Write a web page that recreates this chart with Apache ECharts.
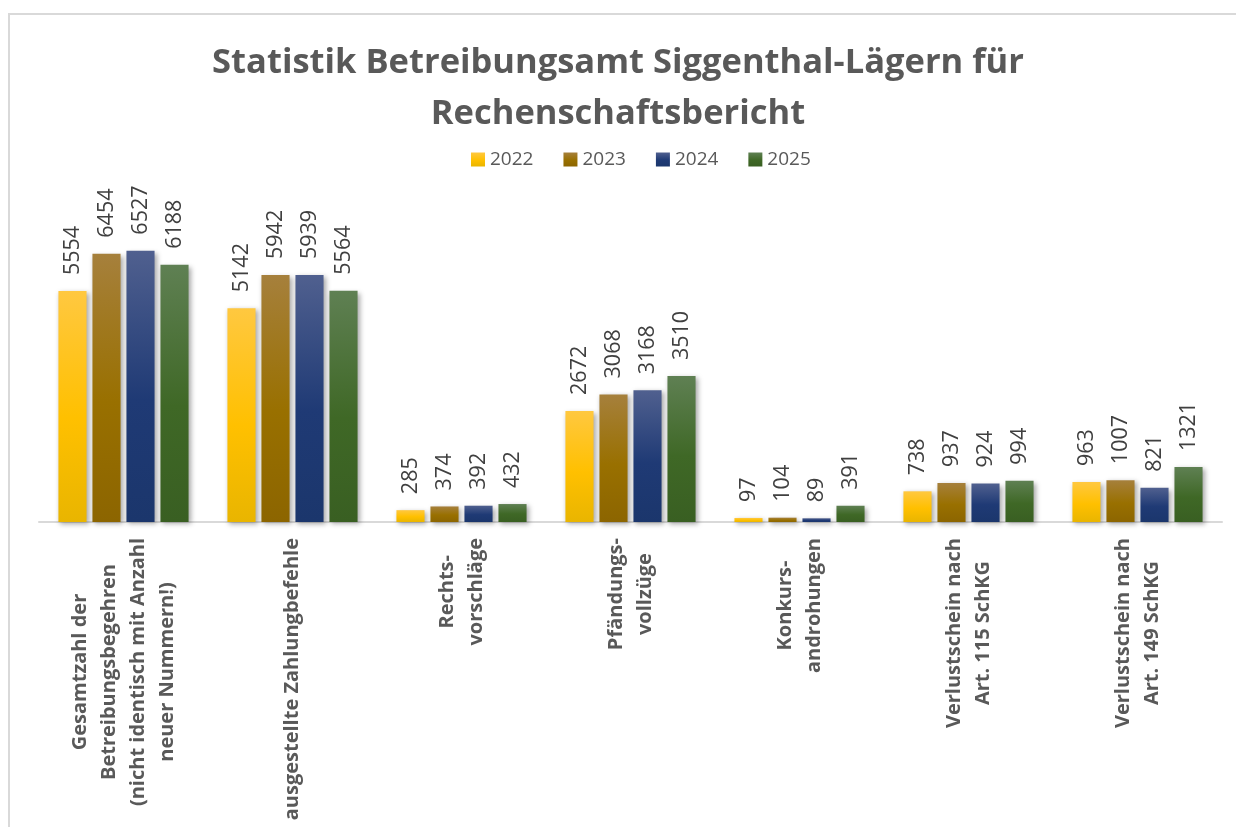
<!DOCTYPE html>
<html>
<head>
<meta charset="utf-8">
<script src="https://cdn.jsdelivr.net/npm/echarts@6/dist/echarts.min.js"></script>
<style>
  html, body { margin: 0; padding: 0; background: #fff; }
  #chart { width: 1236px; height: 827px; }
</style>
</head>
<body>
<div id="chart"></div>
<script>
// Kategorien (Zeilenumbrüche wie im Original)
const categories = [
  'Gesamtzahl der\nBetreibungsbegehren\n(nicht identisch mit Anzahl\nneuer Nummern!)',
  'ausgestellte Zahlungbefehle',
  'Rechts-\nvorschläge',
  'Pfändungs-\nvollzüge',
  'Konkurs-\nandrohungen',
  'Verlustschein nach\nArt. 115 SchKG',
  'Verlustschein nach\nArt. 149 SchKG'
]

const years = ['2022', '2023', '2024', '2025']

const values2022 = [5554, 5142, 285, 2672, 97, 738, 963]
const values2023 = [6454, 5942, 374, 3068, 104, 937, 1007]
const values2024 = [6527, 5939, 392, 3168, 89, 924, 821]
const values2025 = [6188, 5564, 432, 3510, 391, 994, 1321]

const seriesValues = [values2022, values2023, values2024, values2025]

// Verlauf oben hell -> Mitte kräftig -> unten etwas dunkler
const gradients = [
  ['#FFC840', '#FFC000', '#E9B500'],
  ['#A6803C', '#997000', '#8C6500'],
  ['#50608F', '#1F3A75', '#1B366C'],
  ['#5F8053', '#3F6826', '#395F22']
]

const makeGradient = (c) => new echarts.graphic.LinearGradient(0, 0, 0, 1, [
  { offset: 0, color: c[0] },
  { offset: 0.55, color: c[1] },
  { offset: 1, color: c[2] }
])

const FONT = 'Open Sans'

const chart = echarts.init(document.getElementById('chart'))

const option = {
  backgroundColor: '#ffffff',
  animation: false,
  title: {
    text: 'Statistik Betreibungsamt Siggenthal-Lägern für\nRechenschaftsbericht',
    left: 'center',
    top: 33,
    textStyle: {
      fontFamily: FONT,
      fontWeight: 'bold',
      fontSize: 34.5,
      lineHeight: 51,
      color: '#595959'
    }
  },
  legend: {
    data: years,
    top: 145,
    left: 466,
    itemWidth: 14,
    itemHeight: 14,
    itemGap: 30,
    icon: 'rect',
    textStyle: { fontFamily: FONT, fontSize: 19, color: '#595959' }
  },
  graphic: [{
    type: 'polyline',
    shape: { points: [[9, 827], [9, 14], [1236, 14]] },
    style: { stroke: '#D9D9D9', lineWidth: 2, fill: null }
  }],
  grid: {
    left: 39,
    right: 14,
    top: 231,
    bottom: 305,
    outerBoundsMode: 'none'
  },
  xAxis: {
    type: 'category',
    data: categories,
    axisTick: { show: false },
    axisLine: { lineStyle: { color: '#D9D9D9', width: 2 } },
    axisLabel: {
      interval: 0,
      rotate: 90,
      margin: 16,
      formatter: (v) => v.split('\n').map(l => '{c|' + l + '}').join('\n'),
      rich: {
        c: {
          align: 'center',
          fontFamily: FONT,
          fontWeight: 'bold',
          fontSize: 20,
          lineHeight: 29,
          color: '#595959'
        }
      }
    }
  },
  yAxis: {
    type: 'value',
    show: false,
    min: 0,
    max: 7000,
    splitLine: { show: false }
  },
  series: years.map((y, i) => ({
    name: y,
    type: 'bar',
    data: seriesValues[i],
    barGap: '21%',
    barCategoryGap: '23%',
    itemStyle: {
      color: makeGradient(gradients[i]),
      shadowBlur: 5,
      shadowColor: 'rgba(0,0,0,0.35)',
      shadowOffsetX: 2,
      shadowOffsetY: 2
    },
    label: {
      show: true,
      position: 'top',
      rotate: 90,
      align: 'left',
      verticalAlign: 'middle',
      distance: 16,
      fontFamily: FONT,
      fontSize: 21.5,
      color: '#404040'
    }
  }))
}

chart.setOption(option)
</script>
</body>
</html>
